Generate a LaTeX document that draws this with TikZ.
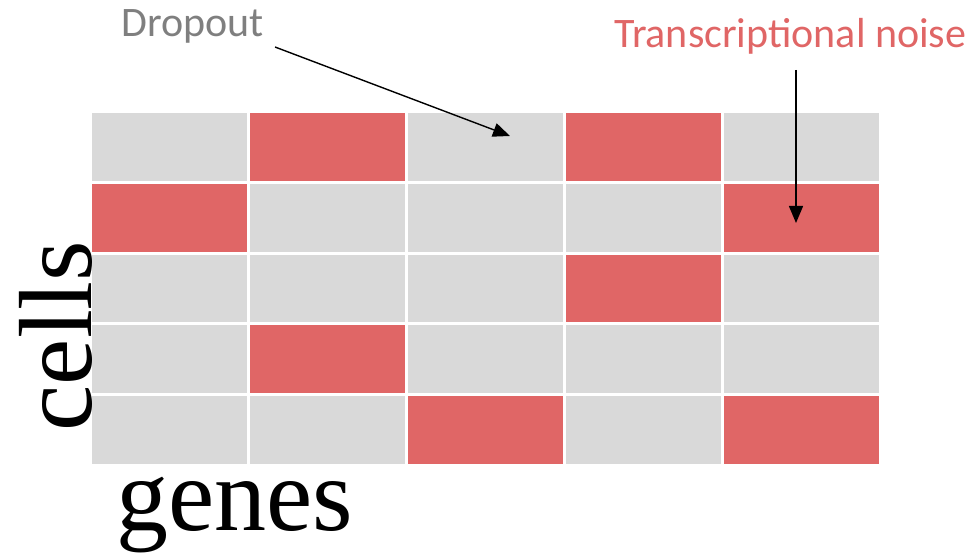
\documentclass[tikz,border=0pt]{standalone}
\usepackage{fontspec}
\setmainfont{Liberation Serif}
\newfontfamily\labelfont{Carlito}
\usetikzlibrary{arrows.meta}
\definecolor{cellgray}{HTML}{D9D9D9}
\definecolor{noisered}{HTML}{E06666}
\definecolor{dropgray}{HTML}{7F7F7F}

\begin{document}
\begin{tikzpicture}[x=1pt,y=-1pt,
  cellbox/.style={rectangle, inner sep=0pt, minimum width=155pt,
                  minimum height=67.8pt, fill=cellgray, draw=none},
  hotbox/.style={cellbox, fill=noisered},
  callout/.style={font=\labelfont\fontsize{42}{50}\selectfont, inner sep=0pt},
  axislabel/.style={font=\fontsize{104}{120}\selectfont, inner sep=0pt},
  pointer/.style={-{Triangle[length=17pt,width=14pt]}, line width=1.4pt, black}]
\useasboundingbox (0,0) rectangle (977,556);

% expression matrix: 5 cells (rows) x 5 genes (columns)
\foreach \r in {1,...,5}
  \foreach \c in {1,...,5}
    \node[cellbox] (c\r\c) at ({91+(\c-0.5)*157.8},{112+(\r-0.5)*70.6}) {};

% entries hit by transcriptional noise
\foreach \r/\c in {1/2,1/4,2/1,2/5,3/4,4/2,5/3,5/5}
  \node[hotbox] (h\r\c) at ({91+(\c-0.5)*157.8},{112+(\r-0.5)*70.6}) {};

% axis labels
\node[axislabel, rotate=90, anchor=base] (cells) at (91,336) {cells};
\node[axislabel, anchor=base west] (genes) at (116,530) {genes};

% callouts
\node[callout, text=dropgray, anchor=base west] (dropout) at (121,37) {Dropout};
\node[callout, text=noisered, anchor=base west] (noise) at (614,48) {Transcriptional noise};

\coordinate (dropfrom) at (275,47);
\coordinate (dropto) at (510,136);
\draw[pointer] (dropfrom) -- (dropto);

\coordinate (noisefrom) at (796,70);
\coordinate (noiseto) at (796,223);
\draw[pointer] (noisefrom) -- (noiseto);
\end{tikzpicture}
\end{document}
